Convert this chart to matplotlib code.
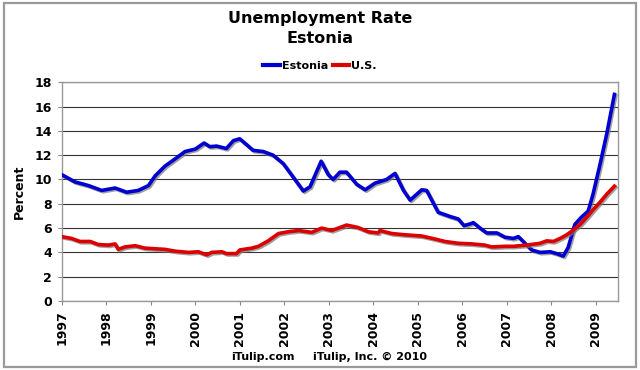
import matplotlib

matplotlib.use("Agg")
import matplotlib.pyplot as plt
import matplotlib.patheffects as pe
from matplotlib.lines import Line2D
from matplotlib.patches import Rectangle

# Estonia unemployment rate (decimal year, percent)
est_t = [1997.0, 1997.3, 1997.6, 1997.9, 1998.2, 1998.46, 1998.72, 1998.95,
         1999.1, 1999.32, 1999.55, 1999.77, 2000.0, 2000.2, 2000.33, 2000.48,
         2000.7, 2000.86, 2001.0, 2001.16, 2001.3, 2001.53, 2001.75, 2001.98,
         2002.16, 2002.43, 2002.58, 2002.83, 2002.99, 2003.1, 2003.25, 2003.4,
         2003.63, 2003.82, 2004.04, 2004.3, 2004.49, 2004.68, 2004.83, 2005.09,
         2005.2, 2005.46, 2005.73, 2005.91, 2006.04, 2006.18, 2006.25, 2006.4,
         2006.55, 2006.78, 2006.96, 2007.15, 2007.26, 2007.41, 2007.56, 2007.75,
         2007.98, 2008.12, 2008.27, 2008.38, 2008.53, 2008.68, 2008.83, 2008.94,
         2009.1, 2009.25, 2009.42]
est_v = [10.4, 9.8, 9.5, 9.1, 9.3, 8.95, 9.1, 9.5,
         10.3, 11.1, 11.7, 12.3, 12.5, 13.0, 12.7, 12.75,
         12.55, 13.2, 13.35, 12.85, 12.4, 12.3, 12.0, 11.3,
         10.4, 9.05, 9.4, 11.5, 10.4, 10.0, 10.6, 10.6,
         9.6, 9.15, 9.7, 10.0, 10.5, 9.1, 8.3, 9.15,
         9.1, 7.3, 6.95, 6.75, 6.2, 6.35, 6.45, 6.0,
         5.6, 5.6, 5.25, 5.15, 5.3, 4.75, 4.2, 4.0,
         4.05, 3.9, 3.7, 4.4, 6.3, 6.9, 7.4, 8.8,
         11.3, 13.8, 17.0]

# U.S. unemployment rate
us_t = [1997.0, 1997.22, 1997.41, 1997.64, 1997.82, 1998.05, 1998.2, 1998.27,
        1998.42, 1998.65, 1998.87, 1999.1, 1999.32, 1999.55, 1999.85, 2000.07,
        2000.26, 2000.37, 2000.6, 2000.7, 2000.93, 2001.0, 2001.27, 2001.42,
        2001.64, 2001.87, 2002.09, 2002.32, 2002.62, 2002.84, 2003.07, 2003.4,
        2003.66, 2003.89, 2004.11, 2004.15, 2004.42, 2004.71, 2005.09, 2005.39,
        2005.61, 2005.91, 2006.21, 2006.51, 2006.66, 2006.96, 2007.15, 2007.45,
        2007.75, 2007.9, 2008.05, 2008.2, 2008.35, 2008.5, 2008.65, 2008.8,
        2008.94, 2009.1, 2009.25, 2009.42]
us_v = [5.3, 5.15, 4.9, 4.9, 4.65, 4.6, 4.7, 4.25,
        4.45, 4.55, 4.35, 4.3, 4.25, 4.1, 4.0, 4.05,
        3.8, 4.0, 4.05, 3.9, 3.9, 4.2, 4.35, 4.5,
        4.95, 5.55, 5.7, 5.8, 5.65, 6.0, 5.8, 6.25,
        6.05, 5.7, 5.6, 5.8, 5.55, 5.45, 5.35, 5.1,
        4.9, 4.75, 4.7, 4.6, 4.45, 4.5, 4.5, 4.6,
        4.75, 4.95, 4.9, 5.15, 5.45, 5.85, 6.3, 6.9,
        7.5, 8.15, 8.8, 9.45]

years = list(range(1997, 2010))
y_ticks = list(range(0, 19, 2))

BLUE = "#0000D0"
RED = "#DD0000"

plt.rcParams["font.family"] = ["DejaVu Sans"]

fig = plt.figure(figsize=(6.4, 3.7), dpi=100)
fig.patches.append(Rectangle((0.006, 0.008), 0.988, 0.984, transform=fig.transFigure,
                             fill=False, edgecolor="#9a9a9a", linewidth=1.6))

ax = fig.add_axes([0.0964, 0.1865, 0.8692, 0.5911])

shadow = [pe.SimpleLineShadow(offset=(1.0, -1.0), shadow_color="#777777", alpha=0.7),
          pe.Normal()]
ax.plot(est_t, est_v, color=BLUE, linewidth=2.6, solid_joinstyle="round",
        path_effects=shadow, zorder=3)
ax.plot(us_t, us_v, color=RED, linewidth=2.6, solid_joinstyle="round",
        path_effects=shadow, zorder=3)

ax.set_xlim(1997, 2009.5)
ax.set_ylim(0, 18)
ax.set_yticks(y_ticks)
ax.set_yticklabels([str(v) for v in y_ticks], fontsize=9, fontweight="bold")
ax.set_xticks(years)
ax.set_xticklabels([str(y) for y in years], rotation=90, fontsize=9, fontweight="bold")
ax.tick_params(axis="both", direction="out", length=3, width=0.8, color="#888888", pad=4)
ax.grid(axis="y", color="#333333", linewidth=0.8)
ax.set_axisbelow(True)
for side in ax.spines.values():
    side.set_color("#999999")
    side.set_linewidth(1.0)
ax.set_ylabel("Percent", fontsize=9, fontweight="bold", labelpad=6)

fig.text(0.5, 0.951, "Unemployment Rate", ha="center", va="center",
         fontsize=11.5, fontweight="bold")
fig.text(0.5, 0.895, "Estonia", ha="center", va="center",
         fontsize=11.5, fontweight="bold")

handles = [Line2D([], [], color=BLUE, linewidth=3), Line2D([], [], color=RED, linewidth=3)]
fig.legend(handles, ["Estonia", "U.S."], loc="center", bbox_to_anchor=(0.5, 0.822),
           ncol=2, frameon=False, handlelength=1.5, handletextpad=0.2, columnspacing=0.4,
           prop={"size": 8, "weight": "bold"})

fig.text(0.41, 0.035, "iTulip.com", ha="center", va="center", fontsize=8, fontweight="bold")
fig.text(0.578, 0.035, "iTulip, Inc. \u00a9 2010", ha="center", va="center",
         fontsize=8, fontweight="bold")

fig.savefig("out.png", dpi=100)
plt.close(fig)
